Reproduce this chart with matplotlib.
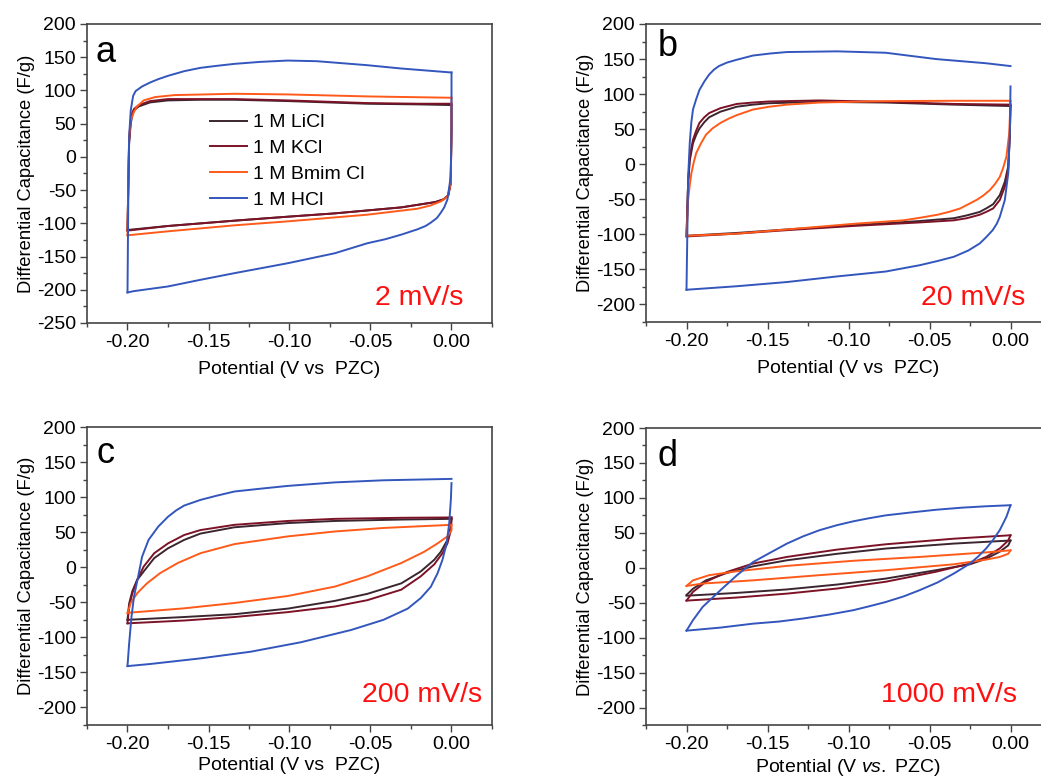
import numpy as np
import matplotlib
matplotlib.use("Agg")
import matplotlib.pyplot as plt
from matplotlib.ticker import MultipleLocator

plt.rcParams['font.family'] = ['Liberation Sans', 'DejaVu Sans']
plt.rcParams['mathtext.fontset'] = 'custom'
plt.rcParams['mathtext.rm'] = 'Liberation Sans'
plt.rcParams['mathtext.it'] = 'Liberation Sans:italic'

# series names / colours
labels = ['1 M LiCl', '1 M KCl', '1 M Bmim Cl', '1 M HCl']
colors = ['#3b2630', '#7c1226', '#ff5a1a', '#3356bd']
rates = ['2 mV/s', '20 mV/s', '200 mV/s', '1000 mV/s']
letters = ['a', 'b', 'c', 'd']

# (potential V, capacitance F/g)
# upper branch (-0.2 -> 0) and lower branch (0 -> -0.2)
a_licl_up = [(-0.200, -110), (-0.1995, -40), (-0.199, 20), (-0.198, 50), (-0.197, 63), (-0.196, 70), (-0.193, 76),
             (-0.186, 82), (-0.175, 85), (-0.155, 86), (-0.134, 86), (-0.101, 84), (-0.052, 80), (-0.020, 79), (0.0, 78)]
a_licl_dn = [(0.0, 78), (0.0, 40), (-0.0005, -40), (-0.002, -58), (-0.005, -64), (-0.010, -68), (-0.031, -76),
             (-0.072, -85), (-0.101, -90), (-0.134, -96), (-0.175, -104), (-0.200, -110)]
a_kcl_up = [(-0.200, -111), (-0.1995, -40), (-0.199, 25), (-0.198, 55), (-0.197, 67), (-0.196, 72), (-0.193, 78),
            (-0.186, 84), (-0.175, 87), (-0.155, 87), (-0.134, 87), (-0.101, 85), (-0.052, 81), (-0.020, 80), (0.0, 80)]
a_kcl_dn = [(0.0, 80), (0.0, 40), (-0.0005, -40), (-0.002, -58), (-0.005, -64), (-0.010, -68), (-0.031, -76),
            (-0.072, -85), (-0.101, -90), (-0.134, -96), (-0.175, -104), (-0.200, -111)]
a_bmim_up = [(-0.200, -118), (-0.1995, -40), (-0.199, 30), (-0.198, 55), (-0.196, 68), (-0.194, 76), (-0.190, 85),
             (-0.183, 90), (-0.171, 93), (-0.134, 95), (-0.101, 94), (-0.052, 91), (0.0, 89)]
a_bmim_dn = [(0.0, 89), (0.0, 40), (-0.0005, -40), (-0.0025, -60), (-0.0066, -67), (-0.0128, -73), (-0.021, -78),
             (-0.052, -87), (-0.101, -97), (-0.134, -103), (-0.175, -112), (-0.200, -118)]
a_hcl_up = [(-0.200, -204), (-0.1995, -60), (-0.199, 30), (-0.198, 70), (-0.197, 85), (-0.1965, 92), (-0.195, 99),
            (-0.191, 106), (-0.186, 112), (-0.181, 117), (-0.175, 122), (-0.165, 129), (-0.155, 134), (-0.145, 137),
            (-0.134, 140), (-0.118, 143), (-0.101, 145), (-0.083, 144), (-0.052, 138), (-0.031, 133), (0.0, 127)]
a_hcl_dn = [(0.0, 127), (0.0, 40), (-0.0005, -30), (-0.0025, -64), (-0.0045, -76), (-0.0066, -84), (-0.009, -92),
            (-0.0128, -99), (-0.016, -104), (-0.021, -109), (-0.031, -117), (-0.041, -124), (-0.052, -130),
            (-0.072, -145), (-0.101, -160), (-0.134, -175), (-0.155, -185), (-0.175, -195), (-0.196, -202), (-0.200, -204)]

b_licl_up = [(-0.200, -102), (-0.199, -27), (-0.198, 5), (-0.196, 30), (-0.194, 42), (-0.192, 51), (-0.189, 60),
             (-0.186, 67), (-0.179, 75), (-0.169, 82), (-0.159, 85), (-0.149, 87), (-0.118, 89), (-0.077, 88),
             (-0.035, 85), (0.0, 83)]
b_licl_dn = [(0.0, 83), (-0.0004, 44), (-0.0014, -3), (-0.0035, -25), (-0.0066, -44), (-0.0107, -57), (-0.015, -63),
             (-0.019, -68), (-0.027, -73), (-0.035, -77), (-0.056, -81), (-0.097, -87), (-0.138, -93), (-0.169, -98),
             (-0.200, -102)]
b_kcl_up = [(-0.200, -103), (-0.199, -27), (-0.198, 11), (-0.196, 35), (-0.194, 48), (-0.192, 59), (-0.189, 67),
            (-0.186, 73), (-0.179, 80), (-0.169, 86), (-0.159, 88), (-0.149, 89.5), (-0.118, 91), (-0.077, 89),
            (-0.035, 86), (0.0, 85)]
b_kcl_dn = [(0.0, 85), (-0.0004, 44), (-0.0014, -8), (-0.0035, -32), (-0.0066, -51), (-0.0107, -63), (-0.015, -68),
            (-0.019, -72), (-0.027, -77), (-0.035, -80), (-0.056, -83), (-0.097, -88), (-0.138, -94), (-0.169, -99),
            (-0.200, -103)]
b_bmim_up = [(-0.200, -102), (-0.199, -51), (-0.198, -30), (-0.197, -13), (-0.1955, 3), (-0.194, 16), (-0.191, 30),
             (-0.188, 42), (-0.184, 51), (-0.179, 59), (-0.174, 65), (-0.169, 70), (-0.159, 78), (-0.149, 82),
             (-0.138, 85), (-0.118, 88), (-0.077, 90), (-0.035, 90.5), (0.0, 90.5)]
b_bmim_dn = [(0.0, 90), (-0.0008, 44), (-0.0025, 11), (-0.0045, -5), (-0.0066, -18), (-0.0095, -28), (-0.0128, -37),
             (-0.017, -45), (-0.021, -51), (-0.026, -57), (-0.031, -63), (-0.038, -68), (-0.045, -72), (-0.055, -76),
             (-0.066, -80), (-0.097, -85), (-0.138, -93), (-0.169, -99), (-0.200, -102)]
b_hcl_up = [(-0.200, -179), (-0.1995, -100), (-0.199, -20), (-0.198, 30), (-0.197, 60), (-0.196, 78), (-0.194, 93),
            (-0.192, 106), (-0.189, 118), (-0.186, 128), (-0.183, 135), (-0.180, 140), (-0.175, 145), (-0.169, 149),
            (-0.164, 152), (-0.159, 155), (-0.148, 158), (-0.138, 160), (-0.107, 161), (-0.077, 159),
            (-0.046, 150), (-0.015, 144), (0.0, 140)]
b_hcl_dn = [(0.0, 111), (-0.0004, 44), (-0.0014, -13), (-0.0035, -51), (-0.0066, -75), (-0.0085, -85), (-0.011, -94),
            (-0.015, -104), (-0.019, -113), (-0.026, -123), (-0.035, -132), (-0.045, -138), (-0.056, -144),
            (-0.077, -153), (-0.107, -160), (-0.138, -168), (-0.169, -174), (-0.200, -179)]

c_licl_up = [(-0.200, -75), (-0.199, -52), (-0.197, -34), (-0.194, -18), (-0.190, -6), (-0.1835, 13), (-0.175, 27),
             (-0.165, 39), (-0.155, 48), (-0.134, 57), (-0.101, 63), (-0.072, 66), (-0.031, 68), (0.0, 69)]
c_licl_dn = [(0.0, 69), (-0.0004, 58), (-0.0025, 39), (-0.0066, 22), (-0.0107, 10.5), (-0.019, -6), (-0.031, -23),
             (-0.052, -38), (-0.072, -48), (-0.101, -59), (-0.134, -67), (-0.165, -71), (-0.200, -75)]
c_kcl_up = [(-0.200, -80), (-0.199, -56), (-0.197, -37), (-0.194, -18), (-0.190, 1), (-0.1835, 20), (-0.175, 34),
            (-0.165, 46), (-0.155, 53), (-0.134, 60.5), (-0.101, 66), (-0.072, 69), (-0.031, 70.5), (0.0, 71)]
c_kcl_dn = [(0.0, 71), (-0.0004, 53), (-0.0025, 34), (-0.0056, 20), (-0.0107, 4), (-0.019, -13), (-0.031, -32),
            (-0.052, -47), (-0.072, -56), (-0.101, -64), (-0.134, -71), (-0.165, -76), (-0.200, -80)]
c_bmim_up = [(-0.200, -66), (-0.198, -51), (-0.194, -37), (-0.188, -23), (-0.180, -8.6), (-0.169, 6), (-0.155, 20),
             (-0.134, 33), (-0.101, 44), (-0.072, 51), (-0.042, 56), (0.0, 60.5)]
c_bmim_dn = [(0.0, 60.5), (0.0, 53), (-0.0025, 44), (-0.0086, 34), (-0.0169, 22), (-0.031, 6), (-0.052, -13),
             (-0.072, -27.6), (-0.101, -41), (-0.134, -51), (-0.165, -58.6), (-0.200, -65)]
c_hcl_up = [(-0.200, -141), (-0.199, -109), (-0.1975, -70), (-0.196, -42), (-0.1934, -13), (-0.191, 15), (-0.187, 39),
            (-0.181, 58), (-0.175, 72), (-0.170, 81), (-0.165, 88), (-0.155, 96), (-0.145, 102), (-0.134, 108),
            (-0.118, 112), (-0.101, 116), (-0.072, 121), (-0.042, 124), (0.0, 126)]
c_hcl_dn = [(0.0, 120), (-0.0004, 96), (-0.0014, 63), (-0.003, 34), (-0.0056, 10.5), (-0.0086, -8.6), (-0.0128, -28),
            (-0.019, -44), (-0.027, -59), (-0.042, -75), (-0.062, -89.5), (-0.093, -107), (-0.124, -120.5),
            (-0.155, -130), (-0.186, -138), (-0.200, -141)]

d_licl_up = [(-0.200, -39), (-0.196, -30), (-0.188, -18), (-0.175, -7.4), (-0.159, 2), (-0.138, 10.7), (-0.107, 20),
             (-0.077, 27.5), (-0.035, 34.6), (0.0, 39)]
d_licl_dn = [(0.0, 39), (-0.0014, 32), (-0.0066, 23), (-0.015, 13), (-0.025, 5), (-0.046, -3.5), (-0.077, -15.5),
             (-0.107, -24), (-0.138, -31), (-0.169, -36), (-0.200, -40)]
d_kcl_up = [(-0.200, -47), (-0.196, -34.5), (-0.188, -20), (-0.175, -6), (-0.159, 6), (-0.138, 15.5), (-0.107, 26),
            (-0.077, 33.6), (-0.035, 41.6), (0.0, 46.5)]
d_kcl_dn = [(0.0, 46.5), (-0.0014, 39), (-0.0066, 27.7), (-0.015, 15.5), (-0.025, 6), (-0.046, -5.7), (-0.077, -20),
            (-0.107, -29.7), (-0.138, -37), (-0.169, -42.6), (-0.200, -47)]
d_bmim_up = [(-0.200, -26), (-0.196, -18), (-0.186, -10.6), (-0.169, -5), (-0.138, 2.7), (-0.097, 10), (-0.056, 15.5),
             (-0.015, 22), (0.0, 25)]
d_bmim_dn = [(0.0, 25), (-0.0014, 20), (-0.0066, 15.5), (-0.015, 11.7), (-0.035, 5), (-0.077, -3.5), (-0.118, -10.6),
             (-0.159, -18), (-0.190, -22.6), (-0.200, -26)]
d_hcl_up = [(-0.200, -90), (-0.196, -75), (-0.190, -56), (-0.179, -32), (-0.169, -11), (-0.159, 8), (-0.148, 22),
            (-0.138, 34.6), (-0.128, 45), (-0.118, 53.7), (-0.107, 61), (-0.097, 66.5), (-0.087, 71), (-0.077, 75),
            (-0.062, 79), (-0.046, 83), (-0.030, 86), (-0.015, 88), (0.0, 89.5)]
d_hcl_dn = [(0.0, 89.5), (-0.0025, 73), (-0.0066, 54), (-0.0107, 40), (-0.015, 27.7), (-0.020, 16), (-0.025, 6),
            (-0.035, -8.3), (-0.045, -21), (-0.056, -32), (-0.066, -41), (-0.077, -49), (-0.087, -55), (-0.097, -60.7),
            (-0.112, -67), (-0.128, -72.6), (-0.143, -77), (-0.159, -80), (-0.179, -85.6), (-0.200, -90)]

panels = [
    [(a_licl_up, a_licl_dn), (a_kcl_up, a_kcl_dn), (a_bmim_up, a_bmim_dn), (a_hcl_up, a_hcl_dn)],
    [(b_licl_up, b_licl_dn), (b_kcl_up, b_kcl_dn), (b_bmim_up, b_bmim_dn), (b_hcl_up, b_hcl_dn)],
    [(c_licl_up, c_licl_dn), (c_kcl_up, c_kcl_dn), (c_bmim_up, c_bmim_dn), (c_hcl_up, c_hcl_dn)],
    [(d_licl_up, d_licl_dn), (d_kcl_up, d_kcl_dn), (d_bmim_up, d_bmim_dn), (d_hcl_up, d_hcl_dn)],
]

fig = plt.figure(figsize=(10.41, 7.79), dpi=100)
W, H = 1041, 779
# axes boxes in pixels: left, top, right, bottom
boxes = [(87, 24, 492, 323), (646, 24, 1051, 322), (87, 427, 492, 725), (646, 428, 1051, 725)]
ylims = [(-250, 200), (-225, 200), (-225, 200), (-225, 200)]
yticks = [np.arange(-250, 201, 50), np.arange(-200, 201, 50), np.arange(-200, 201, 50), np.arange(-200, 201, 50)]
rate_pos = [(0.93, 0.084), (0.936, 0.08), (0.975, 0.10), (0.916, 0.10)]
letter_pos = [(0.022, 0.905), (0.03, 0.925), (0.024, 0.912), (0.028, 0.905)]
xlabel_pad = [7, 7, 3, 3]
spine_col = '#444444'

for i, (l, t, r, b) in enumerate(boxes):
    ax = fig.add_axes([l / W, 1 - b / H, (r - l) / W, (b - t) / H])
    handles = []
    for k, (up, dn) in enumerate(panels[i]):
        up = np.array(up)
        dn = np.array(dn)
        h, = ax.plot(up[:, 0], up[:, 1], color=colors[k], lw=1.4, label=labels[k])
        ax.plot(dn[:, 0], dn[:, 1], color=colors[k], lw=1.4)
        handles.append(h)
    ax.set_xlim(-0.225, 0.025)
    ax.set_ylim(*ylims[i])
    ax.set_xticks([-0.20, -0.15, -0.10, -0.05, 0.00])
    ax.set_xticklabels(['-0.20', '-0.15', '-0.10', '-0.05', '0.00'])
    ax.set_yticks(yticks[i])
    ax.set_yticklabels([str(int(v)) for v in yticks[i]])
    ax.xaxis.set_minor_locator(MultipleLocator(0.025))
    ax.yaxis.set_minor_locator(MultipleLocator(25))
    ax.tick_params(which='major', direction='out', length=5, width=1, color=spine_col,
                   labelsize=14, pad=3, top=False, right=False)
    ax.tick_params(which='minor', direction='out', length=3, width=1, color=spine_col, top=False, right=False)
    for s in ax.spines.values():
        s.set_color(spine_col)
        s.set_linewidth(1.2)
    ax.set_ylabel('Differential Capacitance (F/g)', fontsize=13.2, labelpad=1)
    if i == 3:
        ax.set_xlabel(r'Potential (V $\mathit{vs.}$ PZC)', fontsize=14, labelpad=xlabel_pad[i])
    else:
        ax.set_xlabel('Potential (V vs  PZC)', fontsize=14, labelpad=xlabel_pad[i])
    ax.text(rate_pos[i][0], rate_pos[i][1], rates[i], transform=ax.transAxes, color='#ff1010',
            fontsize=20.5, ha='right', va='center')
    ax.text(letter_pos[i][0], letter_pos[i][1], letters[i], transform=ax.transAxes, color='black',
            fontsize=26, ha='left', va='center')
    if i == 0:
        ax.legend(handles=handles, loc='upper left', bbox_to_anchor=(0.304, 0.70), frameon=False,
                  fontsize=14, handlelength=1.9, handletextpad=0.3, labelspacing=0.42, borderpad=0,
                  borderaxespad=0)

fig.savefig('out.png', dpi=100)
